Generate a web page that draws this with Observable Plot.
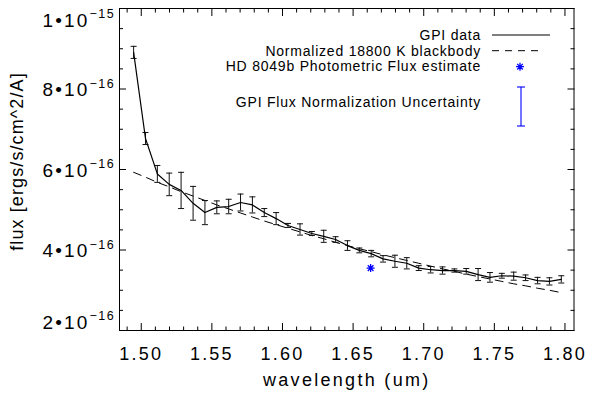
<!DOCTYPE html>
<html>
<head>
<meta charset="utf-8">
<script src="https://cdn.jsdelivr.net/npm/d3@7"></script>
<script src="https://cdn.jsdelivr.net/npm/@observablehq/plot@0.6"></script>
<style>
  html, body { margin: 0; padding: 0; background: #fff; }
  svg { display: block; }
</style>
</head>
<body>
<div id="chart"></div>
<script>
// ---- data (flux values in units of 1e-16 ergs/s/cm^2/A) ----
const wavelengths = [1.4946, 1.5030, 1.5114, 1.5198, 1.5282, 1.5367, 1.5451, 1.5535, 1.5619, 1.5703,
  1.5787, 1.5871, 1.5955, 1.6039, 1.6124, 1.6208, 1.6292, 1.6376, 1.6460, 1.6544,
  1.6628, 1.6712, 1.6796, 1.6880, 1.6965, 1.7049, 1.7133, 1.7217, 1.7301, 1.7385,
  1.7469, 1.7553, 1.7637, 1.7721, 1.7806, 1.7890, 1.7974];
const gpiFluxE16 = [8.91, 6.77, 5.89, 5.63, 5.48, 5.16, 4.93, 5.06, 5.08, 5.18,
  5.12, 4.93, 4.78, 4.61, 4.51, 4.41, 4.34, 4.26, 4.11, 3.99,
  3.91, 3.78, 3.72, 3.67, 3.55, 3.51, 3.49, 3.49, 3.47, 3.39,
  3.32, 3.36, 3.35, 3.31, 3.24, 3.22, 3.27];
const gpiErrE16 = [0.15, 0.15, 0.21, 0.28, 0.45, 0.42, 0.30, 0.16, 0.18, 0.21,
  0.20, 0.10, 0.15, 0.05, 0.14, 0.05, 0.15, 0.07, 0.12, 0.06,
  0.08, 0.08, 0.15, 0.14, 0.06, 0.08, 0.09, 0.04, 0.07, 0.15,
  0.12, 0.06, 0.10, 0.07, 0.08, 0.09, 0.09];
const blackbodyE16 = [5.93, 5.81, 5.68, 5.57, 5.45, 5.34, 5.23, 5.12, 5.02, 4.92,
  4.82, 4.72, 4.63, 4.54, 4.45, 4.36, 4.28, 4.19, 4.11, 4.03,
  3.96, 3.88, 3.81, 3.74, 3.67, 3.60, 3.53, 3.47, 3.40, 3.34,
  3.28, 3.22, 3.16, 3.11, 3.05, 3.00, 2.94];
const photWavelength = [1.6624];
const photFluxE16 = [3.55];

const xMajorTicks = [1.50, 1.55, 1.60, 1.65, 1.70, 1.75, 1.80];
const xMinorTicks = [1.49, 1.51, 1.52, 1.53, 1.54, 1.56, 1.57, 1.58, 1.59, 1.61, 1.62, 1.63, 1.64,
  1.66, 1.67, 1.68, 1.69, 1.71, 1.72, 1.73, 1.74, 1.76, 1.77, 1.78, 1.79];
const yMajorTicks = [2, 4, 6, 8, 10];
const yMinorTicks = [2.5, 3, 3.5, 4.5, 5, 5.5, 6.5, 7, 7.5, 8.5, 9, 9.5];
const yTickMantissas = ["2", "4", "6", "8", "1"];
const yTickExponents = ["−16", "−16", "−16", "−16", "−15"];
const xTitle = "wavelength (um)";
const yTitle = "flux [ergs/s/cm^2/A]";
const legendLabels = ["GPI data", "Normalized 18800 K blackbody",
  "HD 8049b Photometric Flux estimate", "GPI Flux Normalization Uncertainty"];

// ---- build ----
const rows = wavelengths.map((w, i) => ({
  wl: w, flux: gpiFluxE16[i], lo: gpiFluxE16[i] - gpiErrE16[i], hi: gpiFluxE16[i] + gpiErrE16[i], bb: blackbodyE16[i]
}));
const photRows = photWavelength.map((w, i) => ({wl: w, flux: photFluxE16[i]}));

const FONT = "'Liberation Sans', Arial, Helvetica, sans-serif";
const W = 595, H = 397, mL = 119, mR = 21.5, mT = 8, mB = 67;
const capSymbol = {draw(ctx, size) { const w = Math.sqrt(size / Math.PI); ctx.moveTo(-w, 0); ctx.lineTo(w, 0); }};
const starSymbol = {draw(ctx, size) {
  const r = Math.sqrt(size / Math.PI), d = r * Math.SQRT1_2;
  ctx.moveTo(0, -r); ctx.lineTo(0, r);
  ctx.moveTo(-r, 0); ctx.lineTo(r, 0);
  ctx.moveTo(-d, -d); ctx.lineTo(d, d);
  ctx.moveTo(-d, d); ctx.lineTo(d, -d);
}};
const noText = () => "";

const chart = Plot.plot({
  width: W, height: H,
  marginLeft: mL, marginRight: mR, marginTop: mT, marginBottom: mB,
  style: {fontFamily: FONT, background: "#fff", color: "#000", overflow: "visible"},
  x: {domain: [1.4846, 1.8064]},
  y: {domain: [2, 10]},
  marks: [
    Plot.line(rows, {x: "wl", y: "bb", stroke: "#000", strokeWidth: 1, strokeDasharray: "8,6"}),
    Plot.ruleX(rows, {x: "wl", y1: "lo", y2: "hi", stroke: "#111", strokeWidth: 1}),
    Plot.dot(rows, {x: "wl", y: "lo", symbol: capSymbol, r: 3, stroke: "#111", strokeWidth: 1}),
    Plot.dot(rows, {x: "wl", y: "hi", symbol: capSymbol, r: 3, stroke: "#111", strokeWidth: 1}),
    Plot.line(rows, {x: "wl", y: "flux", stroke: "#000", strokeWidth: 1.2}),
    Plot.dot(photRows, {x: "wl", y: "flux", symbol: starSymbol, r: 4, stroke: "#0000ff", strokeWidth: 1.3}),
    Plot.frame({stroke: "#000", strokeWidth: 1}),
    Plot.axisX(xMajorTicks, {anchor: "bottom", tickSize: -7, tickFormat: noText, label: null}),
    Plot.axisX(xMinorTicks, {anchor: "bottom", tickSize: -3.5, tickFormat: noText, label: null}),
    Plot.axisX(xMajorTicks, {anchor: "top", tickSize: -7, tickFormat: noText, label: null}),
    Plot.axisX(xMinorTicks, {anchor: "top", tickSize: -3.5, tickFormat: noText, label: null}),
    Plot.axisY(yMajorTicks, {anchor: "left", tickSize: -7, tickFormat: noText, label: null}),
    Plot.axisY(yMinorTicks, {anchor: "left", tickSize: -4, tickFormat: noText, label: null}),
    Plot.axisY(yMajorTicks, {anchor: "right", tickSize: -7, tickFormat: noText, label: null}),
    Plot.axisY(yMinorTicks, {anchor: "right", tickSize: -4, tickFormat: noText, label: null}),
    Plot.axisX(xMajorTicks, {anchor: "bottom", tickSize: 0, tickPadding: 17, tickFormat: d => d.toFixed(2),
      fontSize: 18, label: null}),
    Plot.text([xTitle], {text: d => d, frameAnchor: "bottom", textAnchor: "middle", lineAnchor: "middle",
      dy: 50, fontSize: 18}),
    Plot.text([yTitle], {text: d => d, frameAnchor: "left", textAnchor: "middle", lineAnchor: "middle",
      rotate: -90, dx: -102.5, dy: -8, fontSize: 18})
  ]
});
document.getElementById("chart").appendChild(chart);

const svg = d3.select(chart);
const xLabelSet = new Set(xMajorTicks.map(d => d.toFixed(2)));
svg.selectAll("text").each(function () {
  const s = this.textContent;
  const t = d3.select(this);
  if (xLabelSet.has(s)) {
    t.attr("font-size", 18).style("font-size", "18px").style("letter-spacing", "2.2px");
  } else if (s === xTitle) {
    t.attr("font-size", 18).style("font-size", "18px").style("letter-spacing", "2.3px");
  } else if (s === yTitle) {
    t.attr("font-size", 18).style("font-size", "18px").style("letter-spacing", "1.1px");
  }
});

// y tick labels with superscript exponents, positioned via Plot's y scale
const yScale = chart.scale("y");
const yLab = svg.append("g").attr("font-family", FONT).style("font-size", "19px")
  .attr("text-anchor", "end").attr("fill", "#000").style("letter-spacing", "2.2px");
yMajorTicks.forEach((v, i) => {
  const py = yScale.apply(v);
  const c = Math.max(mT + 12, Math.min(H - mB - 8, py + 1));
  const t = yLab.append("text").attr("x", 115).attr("y", c + 6.8);
  t.append("tspan").text(yTickMantissas[i] + "•10");
  t.append("tspan").style("font-size", "12.5px").attr("dy", -8.5).style("letter-spacing", "1.4px").text(yTickExponents[i]);
});

// legend
const lg = svg.append("g").attr("font-family", FONT).style("font-size", "14px").attr("fill", "#000");
const lgText = lg.append("g").attr("text-anchor", "end").style("letter-spacing", "0.78px");
const lgBase = [40, 55.7, 70.7, 106.5];
legendLabels.forEach((s, i) => lgText.append("text").attr("x", 481).attr("y", lgBase[i]).text(s));
lg.append("line").attr("x1", 492).attr("x2", 550).attr("y1", 35).attr("y2", 35).attr("stroke", "#000").attr("stroke-width", 1.2);
lg.append("line").attr("x1", 492).attr("x2", 542).attr("y1", 50.7).attr("y2", 50.7).attr("stroke", "#000")
  .attr("stroke-width", 1).attr("stroke-dasharray", "7,6");
lg.append("path").attr("d", d3.symbol(starSymbol, Math.PI * 16)()).attr("transform", "translate(520,66.7)")
  .attr("fill", "none").attr("stroke", "#0000ff").attr("stroke-width", 1.3);
const eb = lg.append("g").attr("stroke", "#0000ff").attr("stroke-width", 1.1);
eb.append("line").attr("x1", 521).attr("x2", 521).attr("y1", 87).attr("y2", 126);
eb.append("line").attr("x1", 517).attr("x2", 525).attr("y1", 87).attr("y2", 87);
eb.append("line").attr("x1", 517).attr("x2", 525).attr("y1", 126).attr("y2", 126);
</script>
</body>
</html>
